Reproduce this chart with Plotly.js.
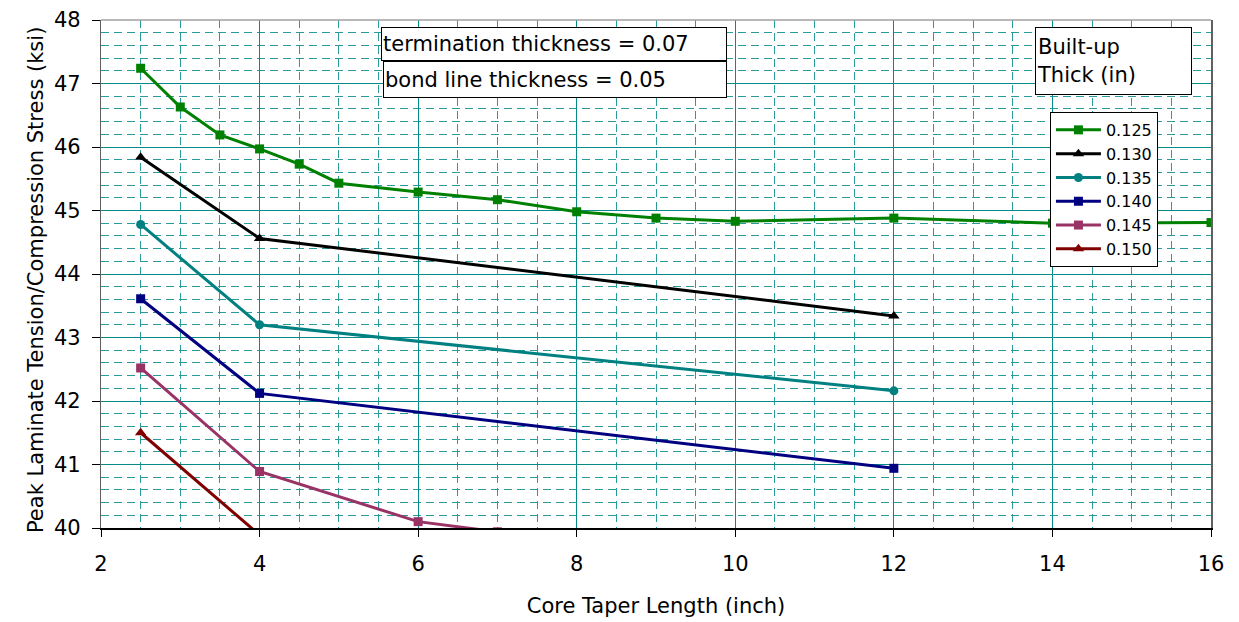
<!DOCTYPE html>
<html>
<head>
<meta charset="utf-8">
<script src="https://cdn.plot.ly/plotly-3.0.1.min.js"></script>
<style>
html,body{margin:0;padding:0;background:#fff;}
#chart{width:1239px;height:622px;}
</style>
</head>
<body>
<div id="chart"></div>
<script>
// Series names (built-up thickness, in)
const seriesNames = ["0.125", "0.130", "0.135", "0.140", "0.145", "0.150"];

// Core taper length (inch) per series
const x125 = [2.5, 3, 3.5, 4, 4.5, 5, 6, 7, 8, 9, 10, 12, 14, 16];
const x130 = [2.5, 4, 12];
const x135 = [2.5, 4, 12];
const x140 = [2.5, 4, 12];
const x145 = [2.5, 4, 6, 7, 8];
const x150 = [2.5, 4];

// Peak laminate tension/compression stress (ksi)
const y125 = [47.24, 46.63, 46.19, 45.97, 45.73, 45.43, 45.29, 45.17, 44.98, 44.88, 44.83, 44.88, 44.80, 44.81];
const y130 = [45.84, 44.56, 43.34];
const y135 = [44.78, 43.20, 42.16];
const y140 = [43.61, 42.12, 40.94];
const y145 = [42.52, 40.89, 40.10, 39.94, 39.90];
const y150 = [41.50, 39.89];

const xTitle = "Core Taper Length (inch)";
const yTitle = "Peak Laminate Tension/Compression Stress (ksi)";

const colors = ["#008000", "#000000", "#008080", "#000080", "#993366", "#800000"];
const symbols = ["square", "triangle-up", "circle", "square", "square", "triangle-up"];
const xs = [x125, x130, x135, x140, x145, x150];
const ys = [y125, y130, y135, y140, y145, y150];

const FONT = "DejaVu Sans, Liberation Sans, Arial, sans-serif";

const traces = seriesNames.map((n, i) => ({
  type: "scatter",
  mode: "lines+markers",
  name: n,
  x: xs[i],
  y: ys[i],
  line: {color: colors[i], width: 3},
  marker: {color: colors[i], symbol: symbols[i], size: symbols[i] === "triangle-up" ? 10 : 9}
}));

const gridMajor = "#078a8a";
const gridMinor = "#2a9a9a";

const layout = {
  width: 1239,
  height: 622,
  margin: {l: 101, r: 28, t: 20, b: 94},
  paper_bgcolor: "#ffffff",
  plot_bgcolor: "#ffffff",
  font: {family: FONT, size: 21, color: "#000"},
  showlegend: true,
  legend: {
    x: 0.8549, y: 0.819, xanchor: "left", yanchor: "top",
    bgcolor: "#ffffff", bordercolor: "#000000", borderwidth: 1,
    font: {family: FONT, size: 16, color: "#000"},
    itemwidth: 45
  },
  xaxis: {
    range: [2, 16],
    dtick: 2, tick0: 2,
    showgrid: true, gridcolor: gridMajor, gridwidth: 1,
    zeroline: false,
    showline: true, linecolor: "#000000", linewidth: 1.5,
    ticks: "outside", ticklen: 7, tickcolor: "#000",
    ticklabelstandoff: 9,
    tickfont: {family: FONT, size: 21},
    title: {text: xTitle, font: {family: FONT, size: 21}, standoff: 23},
    minor: {dtick: 0.5, tick0: 2, showgrid: true, gridcolor: gridMinor, gridwidth: 1, griddash: "8px,5px"},
    automargin: false
  },
  yaxis: {
    range: [40, 48],
    dtick: 1, tick0: 40,
    showgrid: true, gridcolor: gridMajor, gridwidth: 1,
    zeroline: false,
    showline: true, linecolor: "#606060", linewidth: 1.5, mirror: true,
    ticks: "outside", ticklen: 8, tickcolor: "#000",
    ticksuffix: "\u00a0",
    tickfont: {family: FONT, size: 21},
    minor: {dtick: 0.2, tick0: 40, showgrid: true, gridcolor: gridMinor, gridwidth: 1, griddash: "8px,5px"},
    automargin: false
  },
  shapes: [
    {type: "line", xref: "paper", yref: "paper", x0: 0, x1: 1, y0: 1, y1: 1,
     line: {color: "#a0a0a0", width: 1.5}}
  ],
  annotations: [
    {xref: "paper", yref: "paper", x: -0.0586, y: 0.488, xanchor: "center", yanchor: "middle",
     text: yTitle, textangle: -90, showarrow: false,
     font: {family: FONT, size: 21, color: "#000"}},
    {xref: "paper", yref: "paper", x: 0.2519, y: 0.9862, xanchor: "left", yanchor: "top",
     text: "termination thickness = 0.07", showarrow: false, align: "left",
     width: 342, height: 30, borderpad: 1, bordercolor: "#000", borderwidth: 1, bgcolor: "#fff",
     font: {family: FONT, size: 21, color: "#000"}},
    {xref: "paper", yref: "paper", x: 0.2537, y: 0.9193, xanchor: "left", yanchor: "top",
     text: "bond line thickness = 0.05", showarrow: false, align: "left",
     width: 340, height: 33, borderpad: 1, bordercolor: "#000", borderwidth: 1, bgcolor: "#fff",
     font: {family: FONT, size: 21, color: "#000"}},
    {xref: "paper", yref: "paper", x: 0.8414, y: 0.9862, xanchor: "left", yanchor: "top",
     text: "Built-up<br>Thick (in)", showarrow: false, align: "left",
     width: 153, height: 64, borderpad: 1, bordercolor: "#000", borderwidth: 1, bgcolor: "#fff",
     font: {family: FONT, size: 21, color: "#000"}}
  ]
};

Plotly.newPlot("chart", traces, layout, {displayModeBar: false, staticPlot: true});
</script>
</body>
</html>
